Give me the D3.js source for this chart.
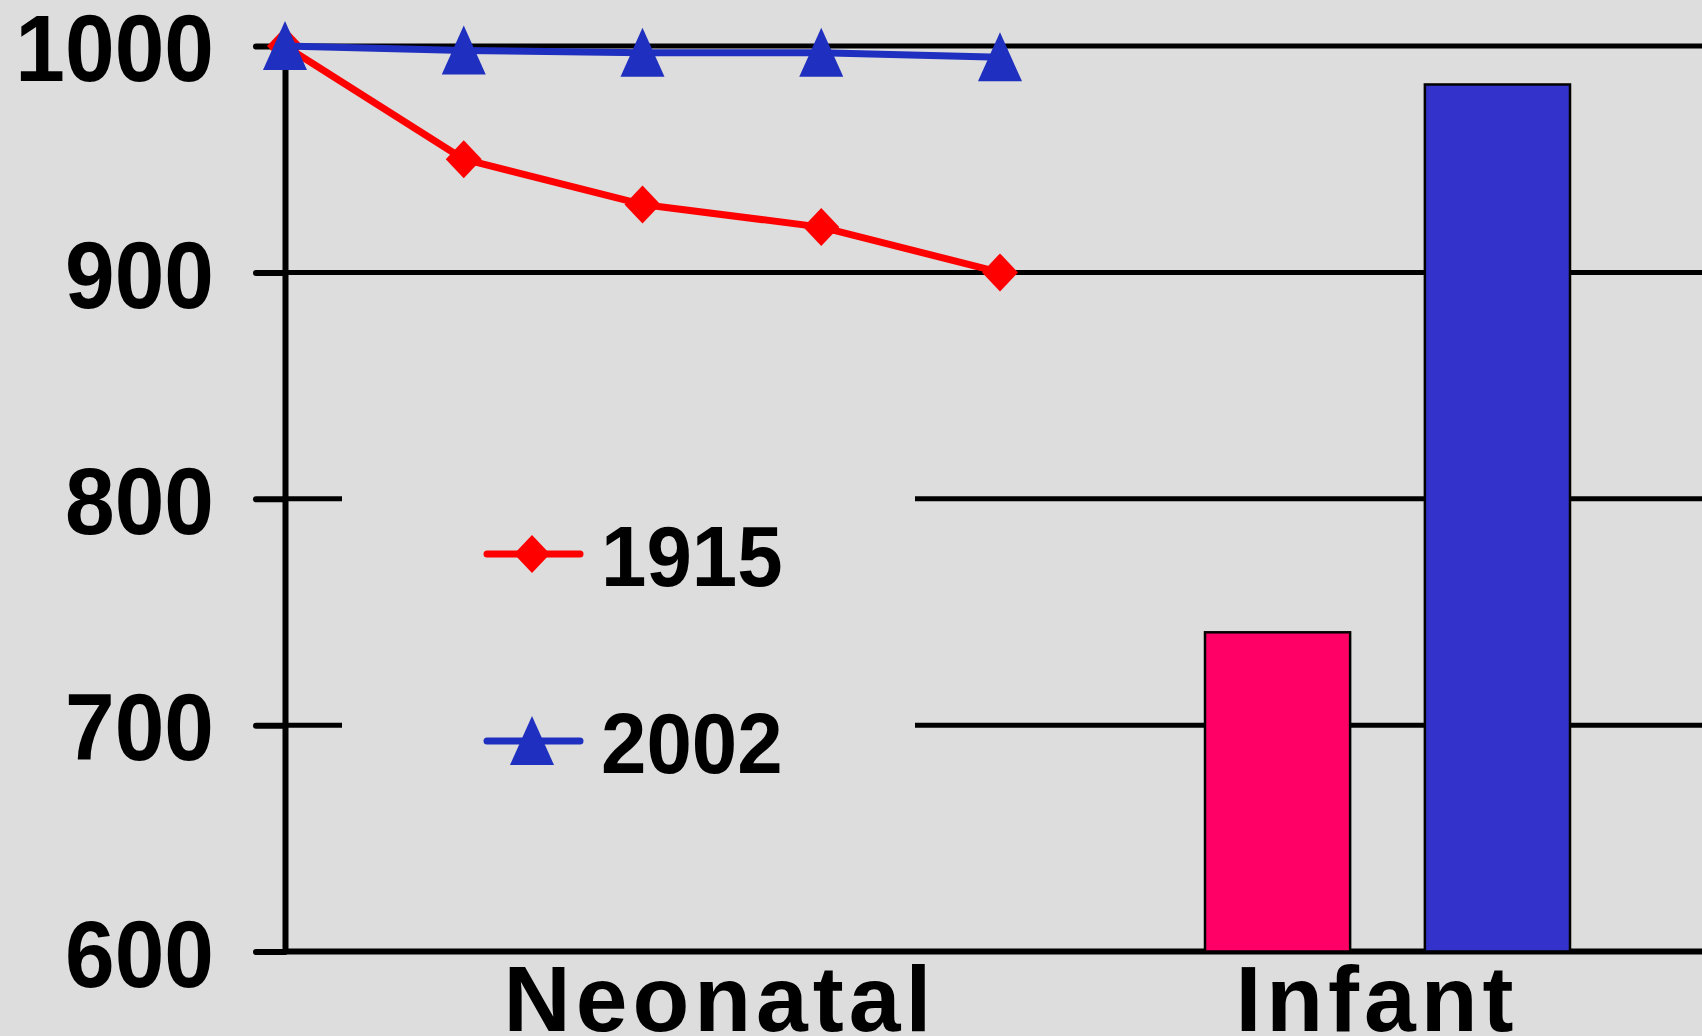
<!DOCTYPE html>
<html>
<head>
<meta charset="utf-8">
<script src="https://cdn.jsdelivr.net/npm/d3@7"></script>
<style>
  body { margin: 0; background: #dddddd; }
  svg { display: block; }
  text { font-family: "Liberation Sans", Arial, sans-serif; font-weight: bold; fill: #000; }
</style>
</head>
<body>
<script>
const width = 1702,
    height = 1036;

// data (survivors per 1000 births)
const categories = ["Neonatal", "Infant"];
const years = ["1915", "2002"];
const stages = ["Birth", "Week 1", "Week 2", "Week 3", "Week 4"];
const neonatal1915 = [1000, 950, 930, 920, 900];
const neonatal2002 = [1000, 998, 997, 997, 995];
const infantValues = [741, 983];
const yTicks = [600, 700, 800, 900, 1000];

const lineColors = ["#ff0000", "#1f2fbf"],
    barColors = ["#ff0066", "#3333cc"];

const svg = d3.select("body").append("svg")
    .attr("width", width)
    .attr("height", height)
    .style("background", "#dddddd");

const y = d3.scaleLinear()
    .domain([600, 1000])
    .range([951.5, 46]);

const xStage = d3.scalePoint()
    .domain(stages)
    .range([285, 1000]);

const xCat = d3.scalePoint()
    .domain(categories)
    .range([720, 1377]);

const xBar = d3.scaleBand()
    .domain(years)
    .range([1205, 1570])
    .paddingInner(0.34);

// gridlines
svg.append("g")
    .selectAll("line")
    .data(yTicks.filter(d => d > 600))
    .join("line")
    .attr("x1", 285)
    .attr("x2", width)
    .attr("y1", d => y(d))
    .attr("y2", d => y(d))
    .attr("stroke", "#000")
    .attr("stroke-width", 5);

// bottom axis line
svg.append("line")
    .attr("x1", 285)
    .attr("x2", width)
    .attr("y1", y(600))
    .attr("y2", y(600))
    .attr("stroke", "#000")
    .attr("stroke-width", 6);

// legend box hides part of the grid
svg.append("rect")
    .attr("x", 342)
    .attr("y", 400)
    .attr("width", 573)
    .attr("height", 460)
    .attr("fill", "#dddddd");

// y axis (labels a bit condensed, like the original font)
const squeeze = 0.95;
const yAxis = svg.append("g")
    .attr("transform", "translate(285,0)")
    .call(d3.axisLeft(y)
        .tickValues(yTicks)
        .tickFormat(d3.format("d"))
        .tickSize(29)
        .tickSizeOuter(0)
        .tickPadding(71 / squeeze - 29));

yAxis.select(".domain")
    .attr("stroke", "#000")
    .attr("stroke-width", 6);

yAxis.selectAll(".tick line")
    .attr("stroke", "#000")
    .attr("stroke-width", 6)
    .attr("stroke-linecap", "round");

yAxis.selectAll(".tick text")
    .attr("font-size", 94)
    .attr("font-family", "'Liberation Sans', Arial, sans-serif")
    .attr("font-weight", "bold")
    .attr("dy", "0.37em")
    .attr("transform", "scale(" + squeeze + ",1)");

// infant bars
svg.append("g")
    .selectAll("rect")
    .data(infantValues)
    .join("rect")
    .attr("x", (d, i) => xBar(years[i]))
    .attr("y", d => y(d))
    .attr("width", xBar.bandwidth())
    .attr("height", d => y(600) - y(d))
    .attr("fill", (d, i) => barColors[i])
    .attr("stroke", "#000")
    .attr("stroke-width", 2.5);

// neonatal lines
const series = [neonatal1915, neonatal2002];
const line = d3.line()
    .x((d, i) => xStage(stages[i]))
    .y(d => y(d));

const diamondPath = "M0,-19L18,0L0,19L-18,0Z",
    trianglePath = "M0,-25L22,24L-22,24Z";

const drawMarker = (g, k, cx, cy) => {
    g.append("path")
        .attr("d", k === 0 ? diamondPath : trianglePath)
        .attr("transform", "translate(" + cx + "," + cy + ")")
        .attr("fill", lineColors[k]);
};

series.forEach((values, k) => {
    const g = svg.append("g");
    g.append("path")
        .datum(values)
        .attr("d", line)
        .attr("fill", "none")
        .attr("stroke", lineColors[k])
        .attr("stroke-width", 7)
        .attr("stroke-linejoin", "round");
    values.forEach((v, i) => drawMarker(g, k, xStage(stages[i]), y(v)));
});

// legend
const legendY = d3.scalePoint()
    .domain(years)
    .range([554, 741]);

years.forEach((yr, k) => {
    const g = svg.append("g");
    const ly = legendY(yr);
    g.append("line")
        .attr("x1", 487)
        .attr("x2", 580)
        .attr("y1", ly)
        .attr("y2", ly)
        .attr("stroke", lineColors[k])
        .attr("stroke-width", 7)
        .attr("stroke-linecap", "round");
    drawMarker(g, k, 532, ly);
    g.append("text")
        .attr("transform", "translate(601," + (ly + 32) + ") scale(" + squeeze + ",1)")
        .attr("font-size", 86)
        .text(yr);
});

// category labels
svg.append("g")
    .selectAll("text")
    .data(categories)
    .join("text")
    .attr("x", d => xCat(d))
    .attr("y", 1031)
    .attr("text-anchor", "middle")
    .attr("font-size", 93)
    .attr("letter-spacing", 5)
    .text(d => d);
</script>
</body>
</html>
